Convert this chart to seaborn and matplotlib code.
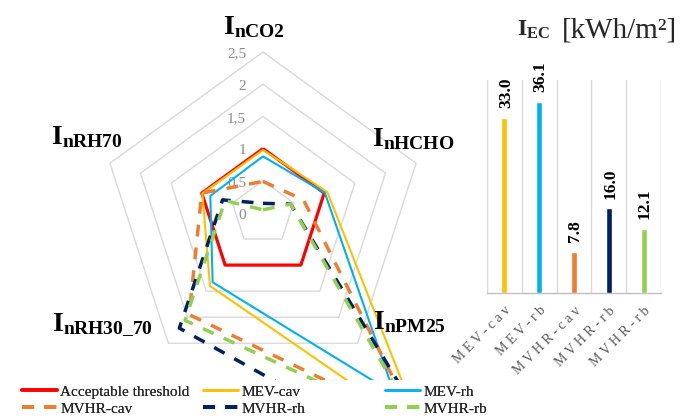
import numpy as np
import matplotlib
matplotlib.use("Agg")
import matplotlib.pyplot as plt
import seaborn as sns
import pandas as pd
from matplotlib.lines import Line2D

sns.set_theme(style="white")
plt.rcParams["font.family"] = ["Liberation Serif", "DejaVu Serif"]
plt.rcParams["mathtext.fontset"] = "custom"
plt.rcParams["mathtext.rm"] = "Liberation Serif"
plt.rcParams["mathtext.bf"] = "Liberation Serif:bold"
plt.rcParams["mathtext.it"] = "Liberation Serif:italic"

# ---------------- data ----------------
radar_axes = ["nCO2", "nHCHO", "nPM25", "nRH30\\_70", "nRH70"]
radar_ticks = [0, 0.5, 1, 1.5, 2, 2.5]
radar_tick_labels = ["0", "0,5", "1", "1,5", "2", "2,5"]

threshold = [1.0, 1.0, 1.0, 1.0, 1.0]
mev_cav = [0.98, 1.05, 4.20, 1.40, 0.99]
mev_rh = [0.88, 1.01, 3.47, 1.33, 0.86]
mvhr_cav = [0.49, 0.66, 4.06, 1.95, 1.00]
mvhr_rh = [0.15, 0.45, 5.20, 2.21, 0.66]
mvhr_rb = [0.05, 0.45, 4.14, 2.06, 0.62]

series_names = ["Acceptable threshold", "MEV-cav", "MEV-rh", "MVHR-cav", "MVHR-rh", "MVHR-rb"]
series_values = [threshold, mev_cav, mev_rh, mvhr_cav, mvhr_rh, mvhr_rb]
series_colors = ["#FF0000", "#FFC000", "#00B0F0", "#ED7D31", "#002060", "#92D050"]
series_dashed = [False, False, False, True, True, True]
series_lw = [2.3, 1.5, 1.5, 2.5, 2.5, 2.5]

bar_cats = ["MEV-cav", "MEV-rb", "MVHR-cav", "MVHR-rb", "MVHR-rb"]
bar_vals = [33.0, 36.1, 7.8, 16.0, 12.1]
bar_colors = ["#FFC000", "#00B0F0", "#ED7D31", "#002060", "#92D050"]

# ---------------- figure ----------------
W, H = 694, 419
fig = plt.figure(figsize=(W / 100, H / 100), dpi=100)

S = 64.4          # px per unit
CX, CY = 263, 213  # centre in px
ax = fig.add_axes([0, (H - 380) / H, 480 / W, 380 / H])
ax.set_xlim(-CX / S, (480 - CX) / S)
ax.set_ylim((CY - 380) / S, CY / S)
ax.axis("off")

angles = np.deg2rad(90 - 72 * np.arange(5))


def xy(vals):
    v = np.asarray(list(vals) + [vals[0]], dtype=float)
    a = np.append(angles, angles[0])
    return v * np.cos(a), v * np.sin(a)


# grid pentagons
for lev in radar_ticks[1:]:
    gx, gy = xy([lev] * 5)
    ax.plot(gx, gy, color="#d9d9d9", lw=1.0, zorder=1)

# tick labels
for lev, lab in zip(radar_ticks, radar_tick_labels):
    ax.text(-17 / S, lev - 2 / S, lab, ha="right", va="center",
            fontsize=11, color="#8c8c8c", zorder=2)

# series
draw_order = [2, 1, 0, 3, 4, 5]
handles = {}
for i in draw_order:
    sx, sy = xy(series_values[i])
    df = pd.DataFrame({"x": sx, "y": sy})
    sns.lineplot(data=df, x="x", y="y", sort=False, estimator=None,
                 color=series_colors[i], lw=series_lw[i], ax=ax, zorder=3 + i)
    line = ax.lines[-1]
    line.set_solid_capstyle("butt")
    if series_dashed[i]:
        line.set_dashes((3.4, 3.2))
        line.set_dash_capstyle("butt")
    h = Line2D([], [], color=series_colors[i], lw=series_lw[i] + 0.3)
    if series_dashed[i]:
        h.set_dashes((3.1, 2.6))
    handles[i] = h
ax.set_xlabel("")
ax.set_ylabel("")
if ax.get_legend():
    ax.get_legend().remove()

# axis labels
lab_fs = 20
lab_specs = [
    (0, 253.5 - CX, CY - 27, "center"),
    (1, 372 - CX, CY - 139, "left"),
    (2, 373 - CX, CY - 322, "left"),
    (3, 153 - CX, CY - 325, "right"),
    (4, 123 - CX, CY - 137, "right"),
]
for k, dx, dy, ha in lab_specs:
    ax.text(dx / S, dy / S, r"$\mathbf{I}_{\mathbf{%s}}$" % radar_axes[k],
            ha=ha, va="center", fontsize=lab_fs, color="black", zorder=20)

# ---------------- bar chart ----------------
axb = fig.add_axes([487 / W, (H - 293) / H, 174 / W, 213 / H])
pos = list(range(len(bar_vals)))
sns.barplot(x=pos, y=bar_vals, hue=pos, palette=bar_colors, legend=False,
            width=0.17, saturation=1, ax=axb, zorder=3)
axb.set_xlim(-0.5, len(bar_vals) - 0.5)
axb.set_ylim(0, 40.2)
for b in np.arange(-0.5, len(bar_vals), 1.0):
    axb.axvline(b, color="#d9d9d9", lw=1.0, zorder=1)
for sp in ["top", "right", "left"]:
    axb.spines[sp].set_visible(False)
axb.spines["bottom"].set_color("#bfbfbf")
axb.spines["bottom"].set_linewidth(1.0)
axb.set_yticks([])
axb.set_ylabel("")
axb.set_xticks(pos)
axb.set_xticklabels([" ".join(list(c)) for c in bar_cats], rotation=45,
                    ha="right", va="top", rotation_mode="anchor",
                    fontsize=10, color="#595959")
axb.tick_params(axis="x", length=0, pad=8)
axb.set_facecolor("none")
for i, v in enumerate(bar_vals):
    axb.annotate(f"{v:.1f}", (i, v), xytext=(1, 7), textcoords="offset points",
                 rotation=90, ha="center", va="bottom", fontsize=12.5,
                 fontweight="bold", color="black")

# title of bar chart
fig.text(517 / W, 1 - 36 / H, r"$\mathbf{I}_{\mathbf{EC}}$", fontsize=17,
         ha="left", va="baseline")
fig.text(562 / W, 1 - 37 / H, "[kWh/m²]", fontsize=21, ha="left", va="baseline")

# ---------------- legend ----------------
cols = [(22, [0, 3]), (203, [1, 4]), (385, [2, 5])]
for x0, idx in cols:
    leg = fig.legend([handles[i] for i in idx], [series_names[i] for i in idx],
                     loc="upper left", bbox_to_anchor=(x0 / W, 1 - 385 / H),
                     frameon=False, fontsize=11, handlelength=2.3,
                     handletextpad=0.2, labelspacing=0.22, borderpad=0,
                     borderaxespad=0)
    fig.add_artist(leg)

fig.savefig("out.png", dpi=100)
